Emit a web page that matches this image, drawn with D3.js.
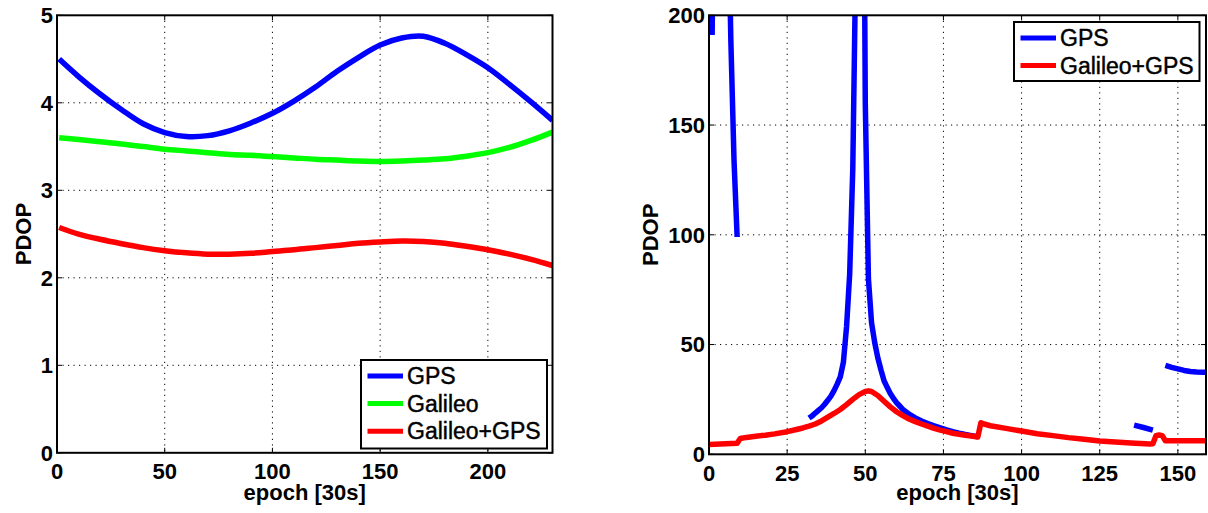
<!DOCTYPE html>
<html lang="en">
<head>
<meta charset="UTF-8">
<title>PDOP GPS / Galileo</title>
<script src="https://d3js.org/d3.v7.min.js"></script>
<style>
    body { margin: 0; background: #fff; }
    svg { display: block; font-family: "Liberation Sans", Arial, sans-serif; }
    .tick-label { font-size: 22px; font-weight: bold; }
    .axis-title { font-size: 22px; font-weight: bold; }
    .legend-text { font-size: 23px; stroke: #000; stroke-width: 0.45px; }
    .grid { stroke: #000; stroke-width: 1; stroke-dasharray: 1.2,4.3; }
    .series { fill: none; stroke-width: 5.5; stroke-linejoin: round; stroke-linecap: butt; }
</style>
</head>
<body>
<svg width="1208" height="513"></svg>
<script>
    // ---- left panel: whole-arc PDOP ----
    const leftEpochs = [1, 10, 20, 30, 40, 50, 60, 70, 80, 90, 100, 110, 120, 130, 140, 150, 160, 170, 180, 190, 200, 210, 220, 230];
    const leftGPS = [4.50, 4.30, 4.10, 3.92, 3.76, 3.66, 3.615, 3.625, 3.68, 3.77, 3.88, 4.02, 4.18, 4.36, 4.52, 4.66, 4.74, 4.76, 4.68, 4.55, 4.40, 4.21, 4.01, 3.80];
    const leftGalileo = [3.60, 3.58, 3.555, 3.53, 3.50, 3.47, 3.45, 3.43, 3.41, 3.40, 3.385, 3.37, 3.355, 3.345, 3.335, 3.33, 3.335, 3.345, 3.36, 3.39, 3.43, 3.49, 3.57, 3.665];
    const leftCombined = [2.575, 2.50, 2.44, 2.39, 2.345, 2.31, 2.285, 2.27, 2.27, 2.28, 2.30, 2.32, 2.345, 2.37, 2.395, 2.41, 2.42, 2.415, 2.395, 2.36, 2.32, 2.27, 2.21, 2.14];

    // ---- right panel: sparse GPS, null = no solution ----
    const rightGPSEpochs = [1, 2, 3, 4, 5, 6, 7, 8, 9, 10,
        32, 33, 34, 35, 36, 37, 38, 39, 40, 41, 42, 43, 44, 45, 46, 47, 48, 49, 50, 51, 52, 53, 54, 55, 56, 57, 58, 59, 60, 61, 62, 64, 66, 68, 70, 72, 74, 76, 78, 80, 82, 84, 86, 87,
        136, 139, 142, 143,
        146, 148, 150, 152, 154, 156, 158, 159];
    const rightGPS = [191, 320, 420, 460, 420, 260, 188, 134, 99, null,
        16.5, 17.5, 18.8, 20.0, 21.2, 22.8, 24.6, 26.5, 29.0, 32.0, 35.3, 42, 58, 82, 130, 230, 600, 400, 160, 80, 60, 51, 44, 38.5, 33.5, 30.5, 27.7, 25.5, 23.5, 22.0, 20.5, 18.3, 16.6, 15.2, 14.0, 13.0, 12.0, 11.1, 10.3, 9.6, 9.0, 8.5, 8.0, null,
        13.3, 12.2, 11.0, null,
        40.5, 39.6, 38.9, 38.2, 37.7, 37.5, 37.4, 37.4];
    const rightCombEpochs = [0, 9, 10, 12, 15, 18, 21, 25, 28, 30, 32, 34, 36, 38, 40, 42, 44, 46, 48, 50, 51, 52, 54, 56, 58, 60, 62, 64, 66, 68, 70, 72, 74, 76, 78, 80, 82, 84, 86, 87, 88, 90, 95, 100, 105, 110, 115, 120, 125, 130, 135, 141, 142, 143, 144, 145, 146, 150, 155, 159];
    const rightCombined = [4.5, 5.0, 7.2, 7.7, 8.2, 8.7, 9.3, 10.3, 11.3, 12.0, 12.8, 13.8, 15.2, 16.9, 18.6, 20.4, 22.6, 25.0, 27.2, 28.6, 28.9, 28.6, 26.8, 24.2, 21.6, 19.4, 17.6, 16.1, 14.9, 13.8, 12.8, 11.8, 11.0, 10.3, 9.6, 9.1, 8.7, 8.3, 7.9, 14.4, 13.8, 13.0, 11.8, 10.6, 9.4, 8.5, 7.6, 6.9, 6.1, 5.6, 5.2, 4.7, 4.8, 8.5, 8.8, 8.5, 6.2, 6.2, 6.2, 6.2];

    const leftXTicks = [0, 50, 100, 150, 200];
    const leftYTicks = [0, 1, 2, 3, 4, 5];
    const rightXTicks = [0, 25, 50, 75, 100, 125, 150];
    const rightYTicks = [0, 50, 100, 150, 200];

    const colGPS = "#0000ff", colGal = "#00ff00", colComb = "#ff0000";

    const svg = d3.select("svg");

    function panel(opts) {
        const x = d3.scaleLinear().domain(opts.xDomain).range(opts.xRange);
        const y = d3.scaleLinear().domain(opts.yDomain).range(opts.yRange);
        const g = svg.append("g");
        const [x0, x1] = opts.xRange, [y0, y1] = opts.yRange;

        // dotted grid
        g.selectAll(".gx").data(opts.xTicks.filter(t => t > opts.xDomain[0] && t < opts.xDomain[1]))
            .enter().append("line").attr("class", "grid")
            .attr("x1", d => x(d)).attr("x2", d => x(d)).attr("y1", y1).attr("y2", y0);
        g.selectAll(".gy").data(opts.yTicks.filter(t => t > opts.yDomain[0] && t < opts.yDomain[1]))
            .enter().append("line").attr("class", "grid")
            .attr("y1", d => y(d)).attr("y2", d => y(d)).attr("x1", x0).attr("x2", x1);

        // series, clipped to the axes box
        const clipId = "clip" + opts.id;
        svg.append("clipPath").attr("id", clipId).append("rect")
            .attr("x", x0).attr("y", y1).attr("width", x1 - x0).attr("height", y0 - y1);
        const lines = g.append("g").attr("clip-path", "url(#" + clipId + ")");
        opts.series.forEach(s => {
            const pts = s.xs.map((e, i) => [e, s.ys[i]]);
            const line = d3.line()
                .defined(d => d[1] !== null)
                .x(d => x(d[0])).y(d => y(d[1]))
                .curve(opts.curve);
            lines.append("path").attr("class", "series")
                .attr("stroke", s.color).attr("d", line(pts));
        });

        // box + inward ticks
        g.append("rect").attr("x", x0).attr("y", y1).attr("width", x1 - x0).attr("height", y0 - y1)
            .attr("fill", "none").attr("stroke", "#000").attr("stroke-width", 2);
        opts.xTicks.forEach(t => {
            g.append("line").attr("x1", x(t)).attr("x2", x(t)).attr("y1", y0).attr("y2", y0 - 5).attr("stroke", "#000");
            g.append("line").attr("x1", x(t)).attr("x2", x(t)).attr("y1", y1).attr("y2", y1 + 5).attr("stroke", "#000");
        });
        opts.yTicks.forEach(t => {
            g.append("line").attr("y1", y(t)).attr("y2", y(t)).attr("x1", x0).attr("x2", x0 + 5).attr("stroke", "#000");
            g.append("line").attr("y1", y(t)).attr("y2", y(t)).attr("x1", x1).attr("x2", x1 - 5).attr("stroke", "#000");
        });

        // tick labels
        g.selectAll(".xl").data(opts.xTicks).enter().append("text")
            .attr("class", "tick-label").attr("text-anchor", "middle")
            .attr("x", d => x(d)).attr("y", y0 + 26.5).text(d => d);
        g.selectAll(".yl").data(opts.yTicks).enter().append("text")
            .attr("class", "tick-label").attr("text-anchor", "end")
            .attr("x", x0 - 4).attr("y", d => y(d)).attr("dy", "0.36em").text(d => d);

        // axis titles
        g.append("text").attr("class", "axis-title").attr("text-anchor", "middle")
            .attr("x", (x0 + x1) / 2).attr("y", 499.5).text("epoch [30s]");
        g.append("text").attr("class", "axis-title").attr("text-anchor", "middle")
            .attr("transform", `translate(${opts.yTitleX},${(y0 + y1) / 2}) rotate(-90)`).text("PDOP");

        // legend
        const lg = opts.legend;
        g.append("rect").attr("x", lg.x).attr("y", lg.y).attr("width", lg.w).attr("height", lg.h)
            .attr("fill", "#fff").attr("stroke", "#000").attr("stroke-width", 2);
        opts.series.forEach((s, i) => {
            const cy = lg.y + 16 + i * 27.6;
            g.append("line").attr("x1", lg.x + 6.5).attr("x2", lg.x + 42)
                .attr("y1", cy).attr("y2", cy).attr("stroke", s.color).attr("stroke-width", 5);
            g.append("text").attr("class", "legend-text").attr("x", lg.x + 46).attr("y", cy + 8).text(s.name);
        });
    }

    panel({
        id: "L",
        xDomain: [0, 230], xRange: [57, 552.5],
        yDomain: [0, 5], yRange: [452.8, 15.3],
        xTicks: leftXTicks, yTicks: leftYTicks,
        curve: d3.curveCatmullRom,
        yTitleX: 31,
        legend: { x: 361, y: 360, w: 186, h: 88.5 },
        series: [
            { name: "GPS", color: colGPS, xs: leftEpochs, ys: leftGPS },
            { name: "Galileo", color: colGal, xs: leftEpochs, ys: leftGalileo },
            { name: "Galileo+GPS", color: colComb, xs: leftEpochs, ys: leftCombined }
        ]
    });

    panel({
        id: "R",
        xDomain: [0, 159], xRange: [709, 1206],
        yDomain: [0, 200], yRange: [454.3, 15.3],
        xTicks: rightXTicks, yTicks: rightYTicks,
        curve: d3.curveLinear,
        yTitleX: 657.5,
        legend: { x: 1014, y: 22, w: 185.5, h: 59 },
        series: [
            { name: "GPS", color: colGPS, xs: rightGPSEpochs, ys: rightGPS },
            { name: "Galileo+GPS", color: colComb, xs: rightCombEpochs, ys: rightCombined }
        ]
    });
</script>
</body>
</html>
